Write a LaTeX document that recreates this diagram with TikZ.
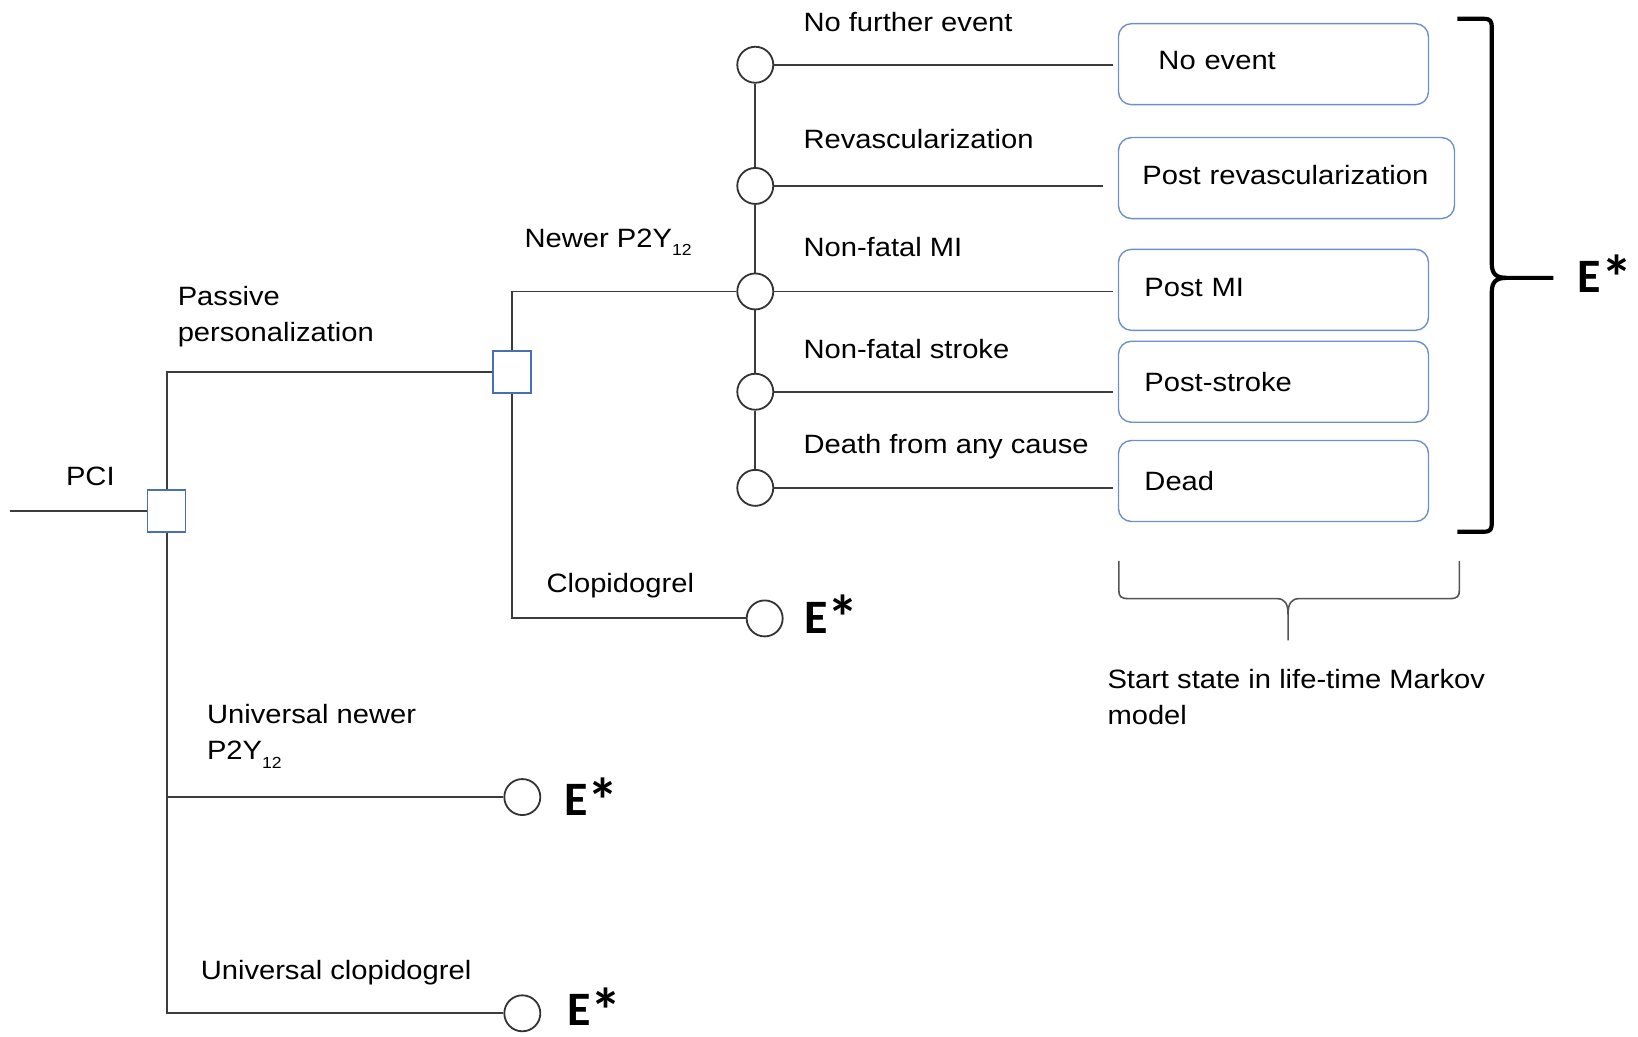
\documentclass[tikz,border=0pt]{standalone}
\usepackage{fontspec}
\setmainfont{Liberation Sans}[FakeStretch=1.1]
\newfontfamily\estarfont{Carlito}
\definecolor{linegray}{HTML}{3C3C3C}
\definecolor{decblue}{HTML}{4A6FB5}
\definecolor{boxblue}{HTML}{6E8FCB}
\definecolor{bracegray}{HTML}{555555}
\newcommand{\Estar}{E\smash{\raisebox{-0.14em}{\scalebox{1.3}{*}}}}
\begin{document}
\begin{tikzpicture}[x=1.0446pt,y=-1.0446pt,
  conn/.style={draw=linegray, line width=1.9pt},
  decbox/.style={draw=decblue, fill=white, line width=1.6pt, minimum width=38pt, minimum height=42pt, inner sep=0pt},
  chance/.style={circle, draw=black!80, fill=white, line width=1.8pt, minimum size=36pt, inner sep=0pt},
  statebox/.style={draw=boxblue, rounded corners=13pt, line width=1.4pt, minimum height=81pt, anchor=north west, align=left, inner xsep=26pt, inner ysep=0pt, font=\fontsize{26.5}{32}\selectfont},
  lbl/.style={anchor=west, inner sep=0pt, align=left, font=\fontsize{26.5}{35.5}\selectfont},
  estar/.style={anchor=base west, inner sep=0pt, font=\estarfont\bfseries\fontsize{48}{48}\selectfont}
]
\useasboundingbox (0,0) rectangle (1568,992);

% decision nodes
\coordinate (pcistart) at (10,489);
\node[decbox] (s1) at (159.5,489) {};
\node[decbox] (s2) at (490,356) {};

% chance nodes
\node[chance] (c1) at (723,62) {};
\node[chance] (c2) at (723,178) {};
\node[chance] (c3) at (723,279) {};
\node[chance] (c4) at (723,375) {};
\node[chance] (c5) at (723,467) {};
\node[chance] (cl) at (732,592) {};
\node[chance] (u1) at (500,763) {};
\node[chance] (u2) at (500,970) {};

% state boxes
\node[statebox, text width=258pt] (b1) at (1070,22) {\hspace*{14pt}\raisebox{7pt}{No event}};
\node[statebox, text width=288pt, inner xsep=24pt] (b2) at (1070,131) {\mbox{\raisebox{6pt}{Post revascularization}}};
\node[statebox, text width=258pt] (b3) at (1070,238) {\raisebox{5pt}{Post MI}};
\node[statebox, text width=258pt] (b4) at (1070,326) {Post-stroke};
\node[statebox, text width=258pt] (b5) at (1070,421) {Dead};

% tree connectors
\draw[conn] (pcistart) -- (s1);
\draw[conn] (s1.north) |- (s2);
\draw[conn] (s2.north) |- (c3);
\draw[conn] (s2.south) |- (cl);
\draw[conn] (s1.south) |- (u1);
\draw[conn] (s1.south) |- (u2);
\draw[conn] (c1) -- (c2);
\draw[conn] (c2) -- (c3);
\draw[conn] (c3) -- (c4);
\draw[conn] (c4) -- (c5);
\draw[conn, shorten >=5pt] (c1) -- (c1 -| b1.west);
\draw[conn, shorten >=15pt] (c2) -- (c2 -| b2.west);
\draw[conn, shorten >=5pt] (c3) -- (c3 -| b3.west);
\draw[conn, shorten >=5pt] (c4) -- (c4 -| b4.west);
\draw[conn, shorten >=5pt] (c5) -- (c5 -| b5.west);

% labels
\node[lbl] (tpci) at (63,456) {PCI};
\node[lbl] (tpass) at (170,303) {Passive\\personalization};
\node[lbl] (tnewer) at (502,232) {Newer P2Y\raisebox{-0.33em}{\fontsize{16}{16}\selectfont 12}};
\node[lbl] (tclop) at (523,561) {Clopidogrel};
\node[lbl] (tnf) at (769,21) {No further event};
\node[lbl] (trev) at (769,133) {Revascularization};
\node[lbl] (tmi) at (769,236) {Non-fatal MI};
\node[lbl] (tstr) at (769,334) {Non-fatal stroke};
\node[lbl] (tdth) at (769,428) {Death from any cause};
\node[lbl] (tun) at (198,705) {Universal newer\\P2Y\raisebox{-0.33em}{\fontsize{16}{16}\selectfont 12}};
\node[lbl] (tuc) at (192,931) {Universal clopidogrel};
\node[lbl] (tstart) at (1060,667) {Start state in life-time Markov\\model};

% E* labels
\node[estar] (e1) at (770,606) {\Estar};
\node[estar] (e2) at (540,781) {\Estar};
\node[estar] (e3) at (543,982) {\Estar};
\node[estar] (e4) at (1510,280) {\Estar};

% big brace
\draw[black, line width=4.2pt, line join=round]
  (1395,18) -- (1420,18) .. controls (1427,18) and (1428,20) .. (1428,27)
  -- (1428,252) .. controls (1428,262) and (1432,266) .. (1442,266) -- (1487,266);
\draw[black, line width=4.2pt, line join=round]
  (1442,266) .. controls (1432,266) and (1428,270) .. (1428,280)
  -- (1428,500) .. controls (1428,507) and (1427,509) .. (1420,509) -- (1395,509);

% bottom brace
\draw[bracegray, line width=1.6pt, line join=round]
  (1071,537) -- (1071,565) .. controls (1071,571) and (1073,573) .. (1080,573)
  -- (1222,573) .. controls (1230,573) and (1233,578) .. (1233,588) -- (1233,613);
\draw[bracegray, line width=1.6pt, line join=round]
  (1233,588) .. controls (1233,578) and (1236,573) .. (1244,573)
  -- (1388,573) .. controls (1395,573) and (1397,571) .. (1397,565) -- (1397,537);
\end{tikzpicture}
\end{document}
